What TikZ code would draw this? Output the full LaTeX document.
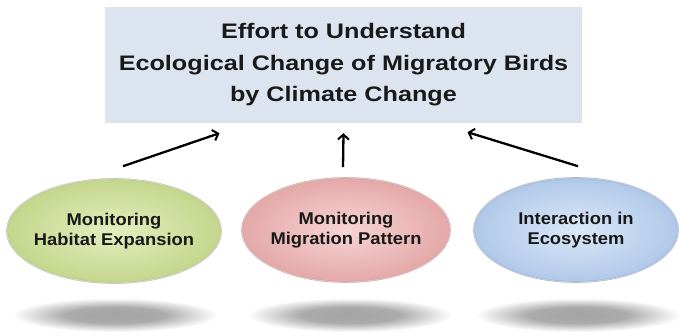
\documentclass[tikz,border=0pt]{standalone}
\usepackage{fontspec}
\setmainfont{Liberation Sans}
\newfontfamily\widefont[FakeStretch=1.2]{Liberation Sans}
\newfontfamily\ellfont[FakeStretch=1.08]{Liberation Sans}
\usetikzlibrary{shapes.geometric,arrows.meta}
\definecolor{boxfill}{RGB}{220,228,240}
\definecolor{gin}{RGB}{228,238,190}
\definecolor{gout}{RGB}{196,214,140}
\definecolor{gring}{RGB}{168,184,134}
\definecolor{pin}{RGB}{247,212,212}
\definecolor{pout}{RGB}{228,168,168}
\definecolor{pring}{RGB}{200,142,142}
\definecolor{bin}{RGB}{218,232,248}
\definecolor{bout}{RGB}{176,200,233}
\definecolor{bring}{RGB}{140,162,196}
\pgfdeclareradialshading{softshadow}{\pgfpoint{0bp}{0bp}}{color(0bp)=(black!36); color(12bp)=(black!33); color(25bp)=(white); color(50bp)=(white)}
\begin{document}
\begin{tikzpicture}[x=1pt,y=-1pt,
  topbox/.style={rectangle, fill=boxfill, draw=none, align=center,
    font=\widefont\bfseries\fontsize{21}{31.5}\selectfont, text=black!90},
  ell/.style={ellipse, line width=1.6pt, align=center, inner sep=-8pt,
    font=\ellfont\bfseries\fontsize{17}{19.5}\selectfont, text=black!90,
    postaction={draw=white, draw opacity=0.45, line width=1.2pt, shorten >=0pt}},
  shad/.style={ellipse, shading=softshadow, draw=none, minimum width=205pt, minimum height=34pt},
  arr/.style={line width=2.3pt, -{Straight Barb[length=5pt,width=11pt,line width=2pt]}}]
\useasboundingbox (0,0) rectangle (679,336);
% shadows
\node[shad] (s1) at (115,315) {};
\node[shad] (s2) at (350,315) {};
\node[shad] (s3) at (578,315) {};
% top box
\node[topbox, minimum width=477pt, minimum height=116pt] (top) at (343.5,65)
  {Effort to Understand\\Ecological Change of Migratory Birds\\by Climate Change};
% ellipses
\node[ell, draw=gring, inner color=gin, outer color=gout, minimum width=214pt, minimum height=104pt] (hab) at (114,231)
  {Monitoring\\Habitat Expansion};
\node[ell, draw=pring, inner color=pin, outer color=pout, minimum width=208pt, minimum height=104pt] (mig) at (346,230)
  {Monitoring\\Migration Pattern};
\node[ell, draw=bring, inner color=bin, outer color=bout, minimum width=204pt, minimum height=104pt] (eco) at (576,230)
  {Interaction in\\Ecosystem};
% arrows
\draw[arr] ([xshift=9pt,yshift=12pt]hab.north) -- ([xshift=-124pt,yshift=-10pt]top.south);
\draw[arr] ([xshift=-3pt,yshift=10pt]mig.north) -- ([xshift=0pt,yshift=-10pt]top.south);
\draw[arr] ([xshift=2pt,yshift=11pt]eco.north) -- ([xshift=124pt,yshift=-9pt]top.south);
\end{tikzpicture}
\end{document}
